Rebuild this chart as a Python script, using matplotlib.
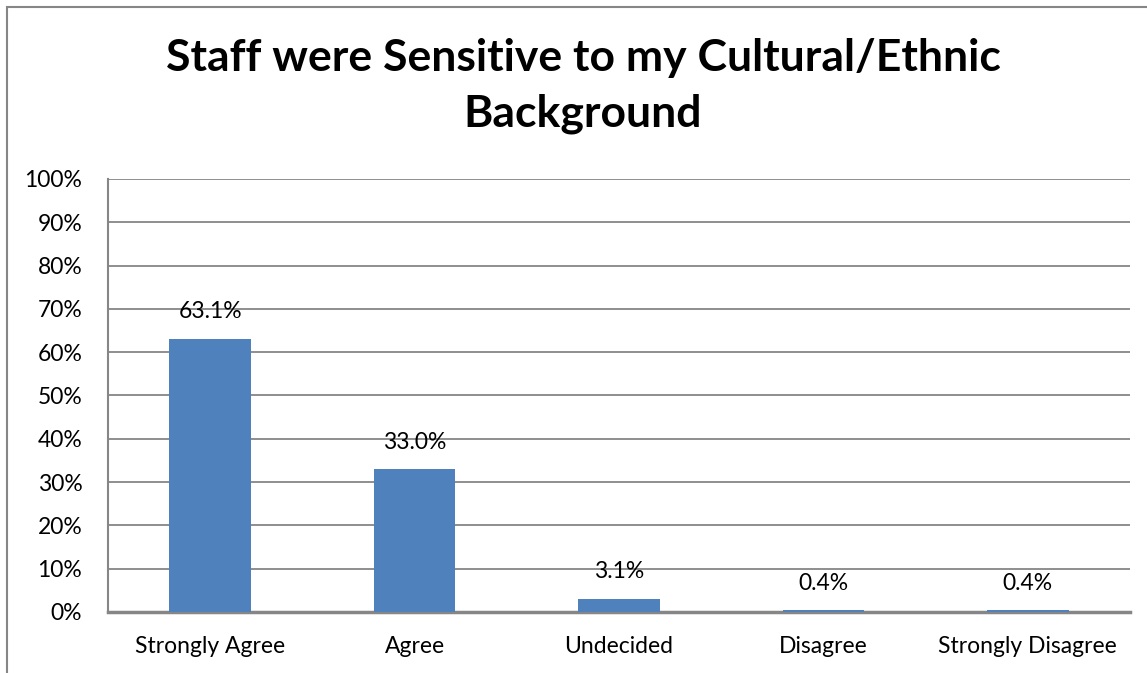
import matplotlib
matplotlib.use("Agg")
import matplotlib.pyplot as plt
from matplotlib.patches import Rectangle
from matplotlib.ticker import MultipleLocator, FuncFormatter

categories = ["Strongly Agree", "Agree", "Undecided", "Disagree", "Strongly Disagree"]
percentages = [63.1, 33.0, 3.1, 0.4, 0.4]
title = "Staff were Sensitive to my Cultural/Ethnic\nBackground"

plt.rcParams['font.family'] = ['Lato', 'DejaVu Sans']

W, H = 1147, 673
fig = plt.figure(figsize=(W / 100, H / 100), dpi=100)

# outer chart border (right and bottom run off the image)
fig.patches.append(Rectangle((7 / W, -0.1), 1.2, 1 - 7 / H + 0.1,
                             transform=fig.transFigure, fill=False,
                             edgecolor='#868686', linewidth=1.5))

ax = fig.add_axes([108 / W, 1 - 612 / H, (1130 - 108) / W, (612 - 179) / H])
x = range(len(categories))
ax.bar(x, percentages, width=0.4, color='#4f81bd', zorder=3)

# value labels sit about 27px above the bar tops
for i, v in enumerate(percentages):
    ax.annotate(f"{v:.1f}%", (i, v), xytext=(0, 19.5), textcoords='offset points',
                ha='center', va='center', fontsize=16.5)

ax.set_xlim(-0.5, len(categories) - 0.5)
ax.set_ylim(0, 100)
ax.yaxis.set_major_locator(MultipleLocator(10))
ax.yaxis.set_major_formatter(FuncFormatter(lambda v, p: f"{v:.0f}%"))
ax.set_xticks(list(x))
ax.set_xticklabels(categories)
ax.tick_params(axis='both', length=0, labelsize=16.5, colors='black')
ax.tick_params(axis='x', pad=17)
ax.tick_params(axis='y', pad=18.5)

ax.grid(axis='y', color='#868686', linewidth=1.3, zorder=0)
for s in ['top', 'right']:
    ax.spines[s].set_visible(False)
ax.spines['left'].set_color('#868686')
ax.spines['left'].set_linewidth(1.5)
ax.spines['bottom'].set_color('#868686')
ax.spines['bottom'].set_linewidth(2.5)

fig.text(583 / W, 1 - 86 / H, title, ha='center', va='center',
         fontsize=32, fontweight='bold', linespacing=1.45)

fig.savefig("out.png", dpi=100)
